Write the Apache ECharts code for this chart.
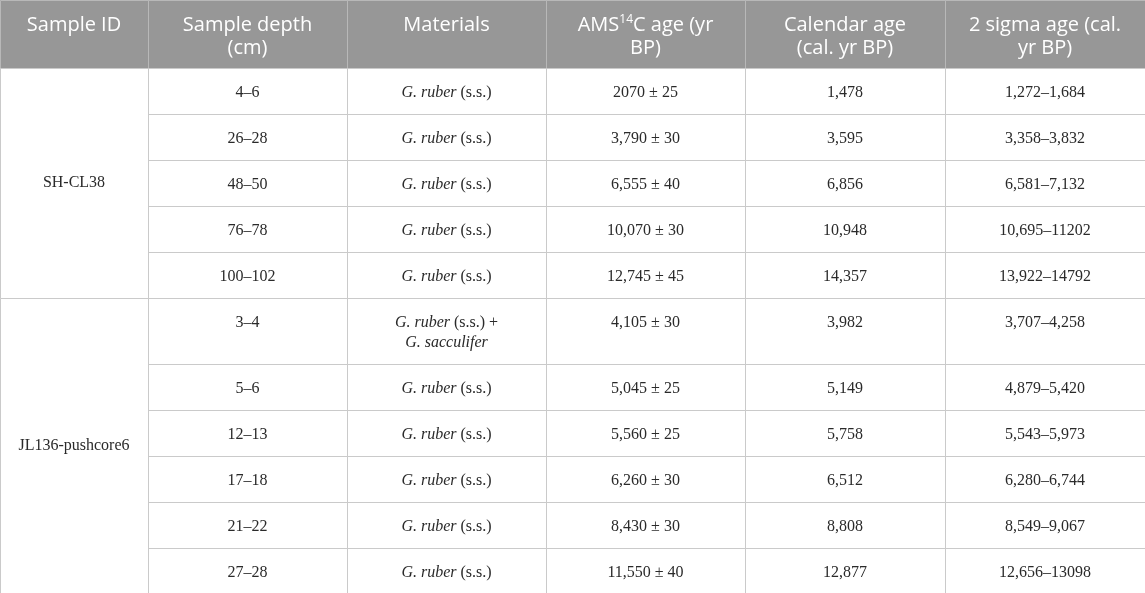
<!DOCTYPE html>
<html>
<head>
<meta charset="utf-8">
<script src="https://cdn.jsdelivr.net/npm/echarts@6/dist/echarts.min.js"></script>
<style>
  html, body { margin: 0; padding: 0; background: #fff; }
  #main { width: 1145px; height: 593px; }
</style>
</head>
<body>
<div id="main"></div>
<script>
// table content
var headers = ['Sample ID', 'Sample depth\n(cm)', 'Materials', 'AMS{sup|14}C age (yr\nBP)', 'Calendar age\n(cal. yr BP)', '2 sigma age (cal.\nyr BP)'];
var sampleIds = ['SH-CL38', 'JL136-pushcore6'];
var groupSizes = [5, 6];
var depths = ['4–6', '26–28', '48–50', '76–78', '100–102', '3–4', '5–6', '12–13', '17–18', '21–22', '27–28'];
var materials = ['G. ruber (s.s.)', 'G. ruber (s.s.)', 'G. ruber (s.s.)', 'G. ruber (s.s.)', 'G. ruber (s.s.)',
  'G. ruber (s.s.) +\nG. sacculifer', 'G. ruber (s.s.)', 'G. ruber (s.s.)', 'G. ruber (s.s.)', 'G. ruber (s.s.)', 'G. ruber (s.s.)'];
var amsAges = ['2070 ± 25', '3,790 ± 30', '6,555 ± 40', '10,070 ± 30', '12,745 ± 45',
  '4,105 ± 30', '5,045 ± 25', '5,560 ± 25', '6,260 ± 30', '8,430 ± 30', '11,550 ± 40'];
var calAges = ['1,478', '3,595', '6,856', '10,948', '14,357', '3,982', '5,149', '5,758', '6,512', '8,808', '12,877'];
var sigmaAges = ['1,272–1,684', '3,358–3,832', '6,581–7,132', '10,695–11202', '13,922–14792',
  '3,707–4,258', '4,879–5,420', '5,543–5,973', '6,280–6,744', '8,549–9,067', '12,656–13098'];

// layout
var colEdges = [0, 148, 347, 546, 745, 945, 1145];
var rowHeights = [68].concat(materials.map(function (m) { return 46 + (m.split('\n').length - 1) * 20; }));
var rowEdges = [0];
rowHeights.forEach(function (h) { rowEdges.push(rowEdges[rowEdges.length - 1] + h); });

var headFont = '"Open Sans", "Noto Sans", sans-serif';
var bodyFont = '"Liberation Serif", "DejaVu Serif", serif';

//把单元格整理成 [列, 起始行, 结束行]
var cells = [];
headers.forEach(function (t, c) {
  cells.push({ value: [c, 0, 1], kind: 'head', text: t });
});
var start = 1;
sampleIds.forEach(function (id, g) {
  cells.push({ value: [0, start, start + groupSizes[g]], kind: 'group', text: id });
  start += groupSizes[g];
});
var bodyCols = [depths, materials.map(function (m) { return m.replace(/(G\. [a-z]+)/g, '{i|$1}'); }), amsAges, calAges, sigmaAges];
bodyCols.forEach(function (col, ci) {
  col.forEach(function (t, ri) {
    cells.push({ value: [ci + 1, ri + 1, ri + 2], kind: 'body', text: t });
  });
});

function renderCell(params, api) {
  var cell = cells[params.dataIndex];
  var c = api.value(0), r0 = api.value(1), r1 = api.value(2);
  var p0 = api.coord([colEdges[c], rowEdges[r0]]);
  var p1 = api.coord([colEdges[c + 1], rowEdges[r1]]);
  var x = Math.round(p0[0]) + 0.5, y = Math.round(p0[1]) + 0.5;
  var w = Math.round(p1[0]) - Math.round(p0[0]), h = Math.round(p1[1]) - Math.round(p0[1]);
  var cx = (p0[0] + p1[0]) / 2;
  var head = cell.kind === 'head';
  var children = [];
  if (head) {
    children.push({ type: 'rect', shape: { x: p0[0], y: p0[1], width: p1[0] - p0[0], height: p1[1] - p0[1] },
      style: { fill: '#979797' }, z2: 0 });
  }
  children.push({ type: 'rect', shape: { x: x, y: y, width: w, height: h },
    style: { fill: null, stroke: head ? '#b8b8b8' : '#cacaca', lineWidth: 1 }, z2: head ? 5 : 10 });
  var ts;
  if (head) {
    ts = { text: cell.text, x: cx, y: p0[1] + 13.5, align: 'center', verticalAlign: 'top',
      fill: '#ffffff', fontSize: 20, fontFamily: headFont, lineHeight: 23,
      rich: { sup: { fontSize: 12, fontFamily: headFont, fill: '#ffffff', verticalAlign: 'top', lineHeight: 14 } } };
  } else if (cell.kind === 'group') {
    ts = { text: cell.text, x: cx, y: (p0[1] + p1[1]) / 2, align: 'center', verticalAlign: 'middle',
      fill: '#2a2a2a', fontSize: 16, fontFamily: bodyFont };
  } else {
    ts = { text: cell.text, x: cx, y: p0[1] + 14.5, align: 'center', verticalAlign: 'top',
      fill: '#2a2a2a', fontSize: 16, fontFamily: bodyFont, lineHeight: 20,
      rich: { i: { fontStyle: 'italic', fontSize: 16, fontFamily: bodyFont, fill: '#2a2a2a', lineHeight: 20 } } };
  }
  children.push({ type: 'text', style: ts, z2: 20 });
  return { type: 'group', children: children };
}

var chart = echarts.init(document.getElementById('main'));
var option = {
  backgroundColor: '#ffffff',
  grid: { left: 0, right: 0, top: 0, bottom: 0 },
  xAxis: { type: 'value', min: 0, max: 1145, show: false },
  yAxis: { type: 'value', min: 0, max: 593, inverse: true, show: false },
  series: [{
    type: 'custom',
    renderItem: renderCell,
    data: cells,
    clip: true,
    silent: true
  }],
  animation: false
};
chart.setOption(option);
</script>
</body>
</html>
